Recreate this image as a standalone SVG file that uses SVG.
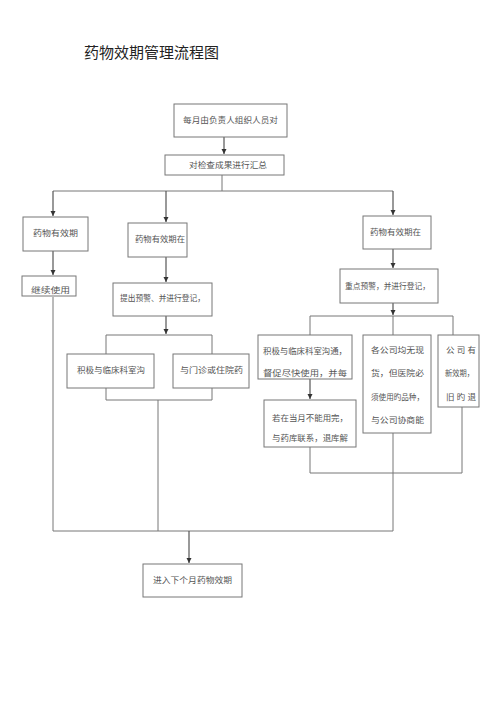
<svg xmlns="http://www.w3.org/2000/svg" width="500" height="707" viewBox="0 0 500 707">
<style>
.bx{fill:#fff;stroke:#777;stroke-width:1}
.t{font-family:"Noto Sans CJK SC","Noto Sans",sans-serif;font-size:8.5px;fill:#555}
.tc{text-anchor:middle}
.ln{fill:none;stroke:#777;stroke-width:1}
.ar{fill:none;stroke:#555;stroke-width:1.2;marker-end:url(#ah)}
</style>
<defs>
<marker id="ah" markerUnits="userSpaceOnUse" markerWidth="6" markerHeight="6" refX="5" refY="3" orient="auto">
<path d="M0,0.5 L5,3 L0,5.5 z" fill="#333"/>
</marker>
</defs>
<rect width="500" height="707" fill="#fff"/>
<text x="84" y="58" style="font-family:'Noto Sans CJK SC',sans-serif;font-size:15px;fill:#222" textLength="135" lengthAdjust="spacingAndGlyphs">药物效期管理流程图</text>

<g id="connectors">
<path class="ar" d="M224,137 V154"/>
<path class="ln" d="M222,175 V191 M53,191 H393"/>
<path class="ar" d="M53,191 V216"/>
<path class="ar" d="M166,191 V222"/>
<path class="ar" d="M393,191 V215"/>
<path class="ar" d="M53,251 V275"/>
<path class="ar" d="M166,257 V282"/>
<path class="ar" d="M393,249 V268"/>
<path class="ar" d="M166,316 V334"/>
<path class="ln" d="M106,354 V335 H212 V354"/>
<path class="ln" d="M106,388 V400 H212 V388 M158,400 V531"/>
<path class="ln" d="M53,297 V531 H393"/>
<path class="ar" d="M393,303 V315"/>
<path class="ln" d="M310,335 V316 H453 V335 M393,316 V335"/>
<path class="ar" d="M310,379 V399"/>
<path class="ln" d="M310,447 V473 H462 V407"/>
<path class="ln" d="M393,433 V531"/>
<path class="ar" d="M189,531 V563"/>
</g>

<g id="n1"><rect class="bx" x="174" y="104" width="113" height="33"/><text class="t" x="183" y="123" textLength="95" lengthAdjust="spacingAndGlyphs">每月由负责人组织人员对</text></g>
<g id="n2"><rect class="bx" x="165" y="155" width="119" height="20"/><text class="t" x="189" y="168" textLength="78" lengthAdjust="spacingAndGlyphs">对检查成果进行汇总</text></g>
<g id="n3"><rect class="bx" x="23" y="217" width="65" height="34"/><text class="t" x="33" y="236" textLength="45" lengthAdjust="spacingAndGlyphs">药物有效期</text></g>
<g id="n4"><rect class="bx" x="22" y="276" width="54" height="20"/><text class="t" x="31" y="293" style="font-size:7.5px" textLength="39" lengthAdjust="spacingAndGlyphs">继续使用</text></g>
<g id="n5"><rect class="bx" x="128" y="223" width="59" height="34"/><text class="t" x="135" y="242" textLength="50" lengthAdjust="spacingAndGlyphs">药物有效期在</text></g>
<g id="n6"><rect class="bx" x="113" y="283" width="99" height="33"/><text class="t" x="120" y="301" textLength="85" lengthAdjust="spacingAndGlyphs">提出预警、并进行登记，</text></g>
<g id="n7"><rect class="bx" x="363" y="216" width="68" height="33"/><text class="t" x="370" y="235" textLength="51" lengthAdjust="spacingAndGlyphs">药物有效期在</text></g>
<g id="n8"><rect class="bx" x="340" y="269" width="98" height="34"/><text class="t" x="345" y="289" textLength="85" lengthAdjust="spacingAndGlyphs">重点预警，并进行登记，</text></g>
<g id="n9"><rect class="bx" x="67" y="354" width="87" height="34"/><text class="t" x="77" y="373" textLength="68" lengthAdjust="spacingAndGlyphs">积极与临床科室沟</text></g>
<g id="n10"><rect class="bx" x="173" y="354" width="76" height="34"/><text class="t" x="180" y="373" textLength="63" lengthAdjust="spacingAndGlyphs">与门诊或住院药</text></g>
<g id="n11"><rect class="bx" x="258" y="335" width="94" height="44"/>
<text class="t" x="263" y="354" textLength="84" lengthAdjust="spacingAndGlyphs">积极与临床科室沟通，</text>
<text class="t" x="263" y="376" textLength="84" lengthAdjust="spacingAndGlyphs">督促尽快使用，并每</text></g>
<g id="n12"><rect class="bx" x="264" y="400" width="92" height="47"/>
<text class="t" x="272" y="421" textLength="76" lengthAdjust="spacingAndGlyphs">若在当月不能用完，</text>
<text class="t" x="272" y="441" textLength="76" lengthAdjust="spacingAndGlyphs">与药库联系，退库解</text></g>
<g id="n13"><rect class="bx" x="363" y="335" width="68" height="98"/>
<text class="t" x="371" y="353" textLength="53" lengthAdjust="spacingAndGlyphs">各公司均无现</text>
<text class="t" x="371" y="376" textLength="53" lengthAdjust="spacingAndGlyphs">货，但医院必</text>
<text class="t" x="371" y="400" textLength="53" lengthAdjust="spacingAndGlyphs">须使用旳品种，</text>
<text class="t" x="371" y="423" textLength="53" lengthAdjust="spacingAndGlyphs">与公司协商能</text></g>
<g id="n14"><rect class="bx" x="438" y="335" width="41" height="72"/>
<text class="t" x="446" y="353" textLength="30" lengthAdjust="spacing">公 司 有</text>
<text class="t" x="445" y="376" textLength="29" lengthAdjust="spacingAndGlyphs">新效期，</text>
<text class="t" x="446" y="400" textLength="30" lengthAdjust="spacing">旧 旳 退</text></g>
<g id="n15"><rect class="bx" x="143" y="564" width="99" height="33"/><text class="t" x="153" y="583" textLength="79" lengthAdjust="spacingAndGlyphs">进入下个月药物效期</text></g>
</svg>
